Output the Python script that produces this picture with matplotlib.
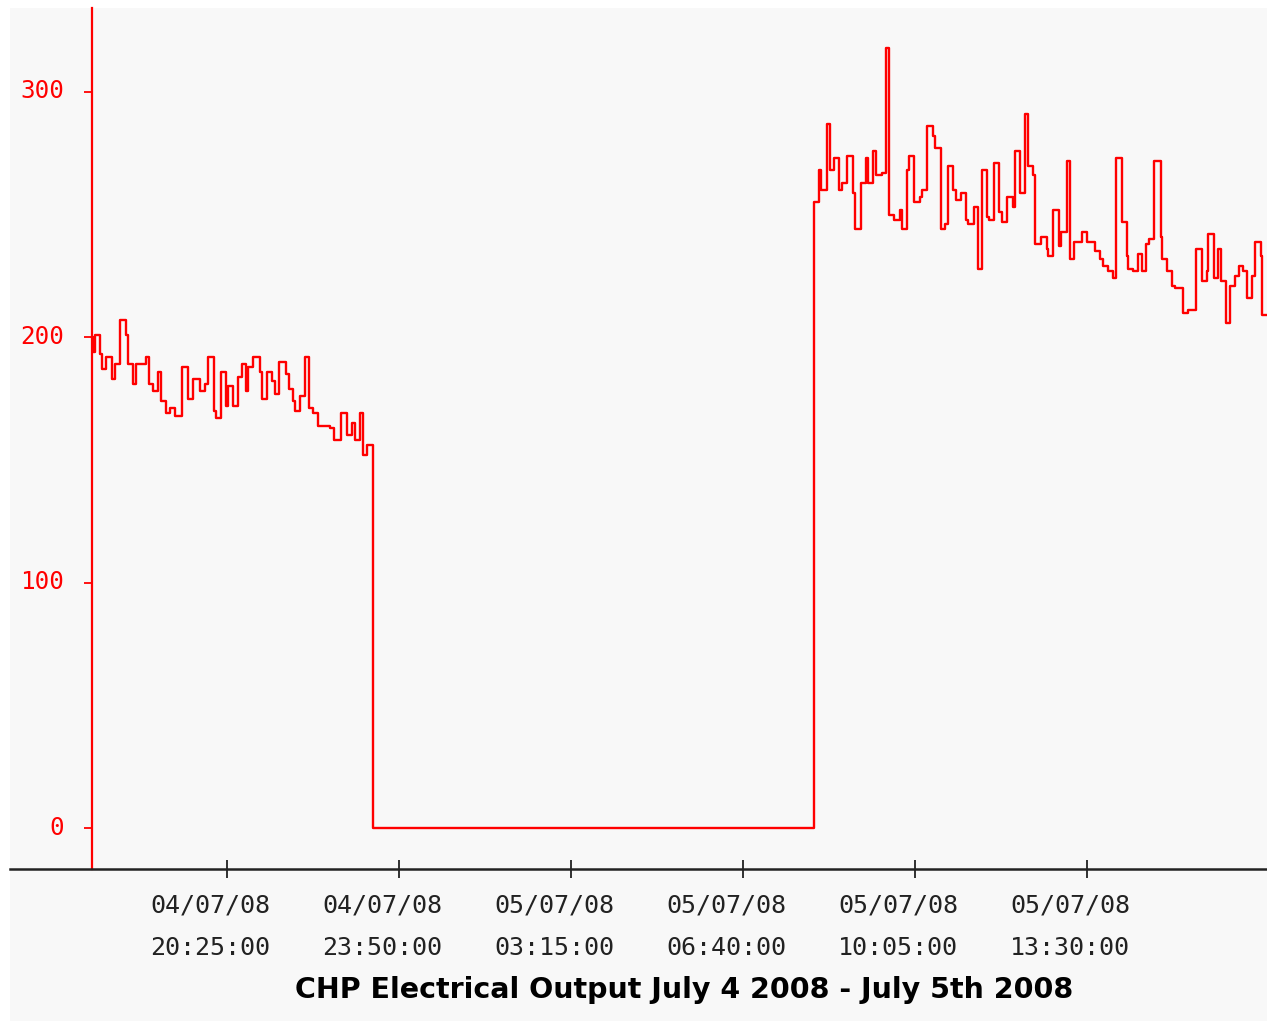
import datetime as dt
import matplotlib
matplotlib.use('Agg')
import matplotlib.pyplot as plt
import matplotlib.dates as mdates
from matplotlib.patches import Rectangle
from matplotlib.transforms import ScaledTranslation

# CHP electrical output
# time = minutes after 04/07/08 17:44, value = output (step, held until next point)
start = dt.datetime(2008, 7, 4, 17, 44)

t_min = [0, 1.2, 3.2, 9.2, 11.9, 17.0, 23.7, 27.1, 33.0, 40.9, 42.9, 48.9, 52.8,
         64.7, 67.6, 72.7, 78.7, 81.9, 88.6, 92.6, 98.6, 107.6, 114.4, 120.4,
         128.4, 134.3, 138.3, 145.4, 148.2, 154.2, 159.4, 162.1, 168.1, 174.0,
         178.4, 183.6, 186.3, 192.3, 200.2, 203.0, 208.9, 214.2, 218.1, 223.2,
         231.2, 235.2, 239.9, 242.0, 247.9, 253.9, 259.0, 263.8, 269.7, 275.7,
         283.7, 288.4, 296.8, 303.6, 309.5, 313.5, 319.4, 323.4, 328.1,
         335.3,
         860.5, 866.5, 868.9, 875.7, 879.6, 884.7, 890.3, 893.6, 899.5, 907.4,
         909.4, 916.6, 922.2, 925.3, 931.2, 934.4, 941.2, 946.0, 950.2, 956.2,
         963.0, 965.1, 971.0, 974.1, 980.1, 986.9, 989.6, 994.9, 1002.0, 1004.8,
         1011.6, 1016.7, 1020.6, 1026.6, 1029.4, 1035.4, 1041.7, 1044.5, 1051.3,
         1056.4, 1060.4, 1066.4, 1069.1, 1075.1, 1081.4, 1084.3, 1091.0, 1097.3,
         1100.1, 1106.1, 1112.0, 1116.0, 1122.0, 1124.0, 1131.2, 1138.0, 1139.9,
         1145.9, 1152.6, 1155.0, 1161.8, 1165.8, 1170.9, 1179.7, 1185.7, 1195.5,
         1201.4, 1205.4, 1211.3, 1217.3, 1220.1, 1227.3, 1233.3, 1235.2, 1241.1,
         1247.1, 1251.1, 1256.3, 1260.2, 1265.8, 1273.7, 1275.7, 1281.6, 1287.6,
         1290.8, 1300.0, 1306.6, 1315.5, 1322.6, 1328.6, 1330.5, 1337.3, 1342.4,
         1345.3, 1351.6, 1356.4, 1362.3, 1367.5, 1371.5, 1377.0, 1383.0, 1386.2,
         1392.9, 1394.9, 1400.5]

output = [200, 194, 201, 193, 187, 192, 183, 189, 207, 201, 189, 181, 189,
          192, 181, 178, 186, 174, 169, 171, 168, 188, 175, 183,
          178, 181, 192, 170, 167, 186, 172, 180, 172, 184,
          189, 178, 188, 192, 186, 175, 186, 182, 177, 190,
          185, 179, 174, 170, 176, 192, 171, 169, 164, 164,
          163, 158, 169, 160, 165, 158, 169, 152, 156,
          0,
          255, 268, 260, 287, 268, 273, 260, 263, 274, 259,
          244, 263, 273, 263, 276, 266, 267, 318, 250, 248,
          252, 244, 268, 274, 255, 257, 260, 286, 282, 277,
          244, 246, 270, 260, 256, 259, 248, 246, 253,
          228, 268, 249, 248, 271, 251, 247, 257, 253,
          276, 259, 291, 270, 266, 238, 241, 236, 233,
          252, 237, 243, 272, 232, 239, 243, 239, 235,
          232, 229, 227, 224, 273, 247, 233, 228, 227,
          234, 227, 238, 240, 272, 241, 232, 227, 221,
          220, 210, 211, 236, 223, 227, 242, 224, 236,
          223, 206, 221, 225, 229, 227, 216, 225, 239,
          233, 209, 209]

tick_times = [dt.datetime(2008, 7, 4, 20, 25), dt.datetime(2008, 7, 4, 23, 50),
              dt.datetime(2008, 7, 5, 3, 15), dt.datetime(2008, 7, 5, 6, 40),
              dt.datetime(2008, 7, 5, 10, 5), dt.datetime(2008, 7, 5, 13, 30)]
y_ticks = [0, 100, 200, 300]

times = [start + dt.timedelta(minutes=m) for m in t_min]

bg = '#f8f8f8'
W, H = 1267, 1021
fig = plt.figure(figsize=(W / 100, H / 100), dpi=100, facecolor='white')
fig.patches.append(Rectangle((10 / W, 0), 1 - 10 / W, 1 - 8 / H, transform=fig.transFigure,
                             facecolor=bg, edgecolor='none', zorder=-10))
ax = fig.add_axes([10 / W, (H - 869) / H, 1 - 10 / W, (869 - 8) / H])
ax.set_facecolor(bg)

ax.step(times, output, where='post', color='#ff0000', lw=1.7)

ax.set_xlim(start - dt.timedelta(minutes=97.7), start + dt.timedelta(minutes=1400.5))
ax.set_ylim(-16.7, 334.2)

for s in ['top', 'right']:
    ax.spines[s].set_visible(False)
ax.spines['left'].set_position(('data', mdates.date2num(start)))
ax.spines['left'].set_color('#ff0000')
ax.spines['left'].set_linewidth(1.6)
ax.spines['bottom'].set_color('#222222')
ax.spines['bottom'].set_linewidth(1.8)

ax.set_yticks(y_ticks)
ax.tick_params(axis='y', colors='#ff0000', direction='out', length=6, width=1.3, pad=14)
ax.set_xticks(tick_times)
ax.xaxis.set_major_formatter(mdates.DateFormatter('%d/%m/%y\n%H:%M:%S'))
ax.tick_params(axis='x', colors='#222222', direction='inout', length=13, width=1.3, pad=11)

# labels in the original sit a little left of their ticks
x_shift = ScaledTranslation(-17 / 100, 0, fig.dpi_scale_trans)
y_shift = ScaledTranslation(0, 3 / 100, fig.dpi_scale_trans)
for lab in ax.get_yticklabels():
    lab.set_fontfamily('DejaVu Sans Mono')
    lab.set_fontsize(17.5)
    lab.set_transform(lab.get_transform() + y_shift)
for lab in ax.get_xticklabels():
    lab.set_fontfamily('DejaVu Sans Mono')
    lab.set_fontsize(18)
    lab.set_linespacing(2.0)
    lab.set_transform(lab.get_transform() + x_shift)

fig.text(684 / W, 1 - 990 / H, 'CHP Electrical Output July 4 2008 - July 5th 2008',
         ha='center', va='center', fontsize=20.5, fontweight='bold',
         family=['Liberation Sans Narrow', 'DejaVu Sans'])

fig.savefig('out.png', dpi=100, facecolor=fig.get_facecolor())
